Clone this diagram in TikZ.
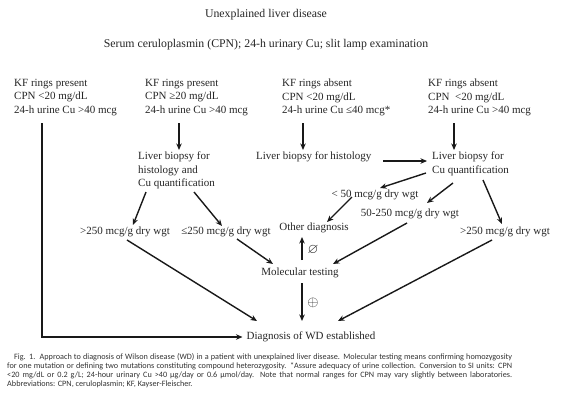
\documentclass[tikz,border=0pt]{standalone}
\usepackage{amssymb}
\usepackage{fontspec}
\setmainfont{Liberation Serif}
\newfontfamily\capfont{Carlito}
\usetikzlibrary{arrows.meta,calc}
\begin{document}
\begin{tikzpicture}[x=1pt,y=-1pt,
  txt/.style={inner sep=0pt, font=\fontsize{11}{13.5}\selectfont, text=black!85},
  head/.style={inner sep=0pt, font=\fontsize{11.8}{14}\selectfont, text=black!85},
  ml/.style={txt, align=left, anchor=north west},
  arr/.style={line width=1.4pt, draw=black!90, -{Stealth[length=6.5pt,width=5.5pt]}},
  lbl/.style={inner sep=0pt, font=\fontsize{14}{15}\selectfont, text=black!85},
]
\path[use as bounding box, fill=white] (0,0) rectangle (568,400);

\node[head] (title) at (266,15) {Unexplained liver disease};
\node[head] (serum) at (266,45) {Serum ceruloplasmin (CPN); 24-h urinary Cu; slit lamp examination};

\node[ml] (c1) at (14,79) {KF rings present\\CPN <20 mg/dL\\24-h urine Cu >40 mcg};
\node[ml] (c2) at (145,79) {KF rings present\\CPN ≥20 mg/dL\\24-h urine Cu >40 mcg};
\node[ml] (c3) at (282,79) {KF rings absent\\CPN <20 mg/dL\\24-h urine Cu ≤40 mcg*};
\node[ml] (c4) at (428,79) {KF rings absent\\CPN\ \ <20 mg/dL\\24-h urine Cu >40 mcg};

\node[ml] (lb2) at (138,152) {Liver biopsy for\\histology and\\Cu quantification};
\node[ml] (lb3) at (256,152) {Liver biopsy for histology};
\node[ml] (lb4) at (432,152) {Liver biopsy for\\Cu quantification};

\node[txt] (r1) at (125,232) {>250 mcg/g dry wgt};
\node[txt] (r2) at (226,232) {≤250 mcg/g dry wgt};
\node[txt] (lt50) at (375,195) {< 50 mcg/g dry wgt};
\node[txt] (m50) at (410,214) {50-250 mcg/g dry wgt};
\node[txt] (other) at (314,228) {Other diagnosis};
\node[txt] (r4) at (505,232) {>250 mcg/g dry wgt};
\node[txt] (mol) at (300,273) {Molecular testing};
\node[txt] (diag) at (311,337) {Diagnosis of WD established};

\node[lbl] (empty) at (313,250) {$\varnothing$};
\node[lbl] (plus) at (313,303) {$\oplus$};

% connectors
\draw[arr] ($(c1.north west)+(28,44)$) |- ($(diag.west)+(-4,0)$);
\draw[arr] ($(c2.north west)+(34,44)$) -- ($(lb2.north west)+(41,-2)$);
\draw[arr] ($(c3.north west)+(21,44)$) -- ($(lb3.north west)+(47,-2)$);
\draw[arr] ($(c4.north west)+(26,44)$) -- ($(lb4.north west)+(22,-2)$);
\draw[arr] ($(lb3.north west)+(127,9)$) -- ($(lb4.north west)+(-5,9)$);
\draw[arr] ($(lb2.north west)+(8,40)$) -- ($(r1)+(8,-7)$);
\draw[arr] ($(lb2.north west)+(56,40)$) -- ($(r2)+(-4,-6)$);
\draw[arr] ($(lb4.north west)+(-6,21)$) -- ($(lt50)+(5,-7)$);
\draw[arr] ($(lb4.north west)+(21,31)$) -- ($(m50)+(17,-11)$);
\draw[arr] ($(lb4.north west)+(51,28)$) -- ($(r4)+(-3,-8)$);
\draw[arr] ($(lt50)+(-23,2)$) -- ($(other)+(13,-6)$);
\draw[arr] ($(mol)+(2,-13)$) -- ($(other)+(-12,9)$);
\draw[arr] ($(mol)+(2,10)$) -- ($(diag)+(-9,-16)$);
\draw[arr] ($(r1)+(2,8)$) -- ($(diag)+(-54,-16)$);
\draw[arr] ($(r2)+(11,7)$) -- ($(mol)+(-27,-9)$);
\draw[arr] ($(m50)+(-3,9)$) -- ($(mol)+(33,-9)$);
\draw[arr] ($(r4)+(-13,8)$) -- ($(diag)+(27,-16)$);

\node[anchor=north west, inner sep=0pt, align=left,
      font=\capfont\fontsize{8.2}{9}\selectfont, text=black!80] (cap) at (7,353)
{\hspace*{7pt}\makebox[498pt][s]{Fig. 1.\ \ Approach to diagnosis of Wilson disease (WD) in a patient with unexplained liver disease. Molecular testing means confirming homozygosity}\\
\makebox[505pt][s]{for one mutation or defining two mutations constituting compound heterozygosity. *Assure adequacy of urine collection. Conversion to SI units: CPN}\\
\makebox[505pt][s]{<20 mg/dL or 0.2 g/L; 24-hour urinary Cu >40 μg/day or 0.6 μmol/day. Note that normal ranges for CPN may vary slightly between laboratories.}\\
Abbreviations: CPN, ceruloplasmin; KF, Kayser-Fleischer.};
\end{tikzpicture}
\end{document}
